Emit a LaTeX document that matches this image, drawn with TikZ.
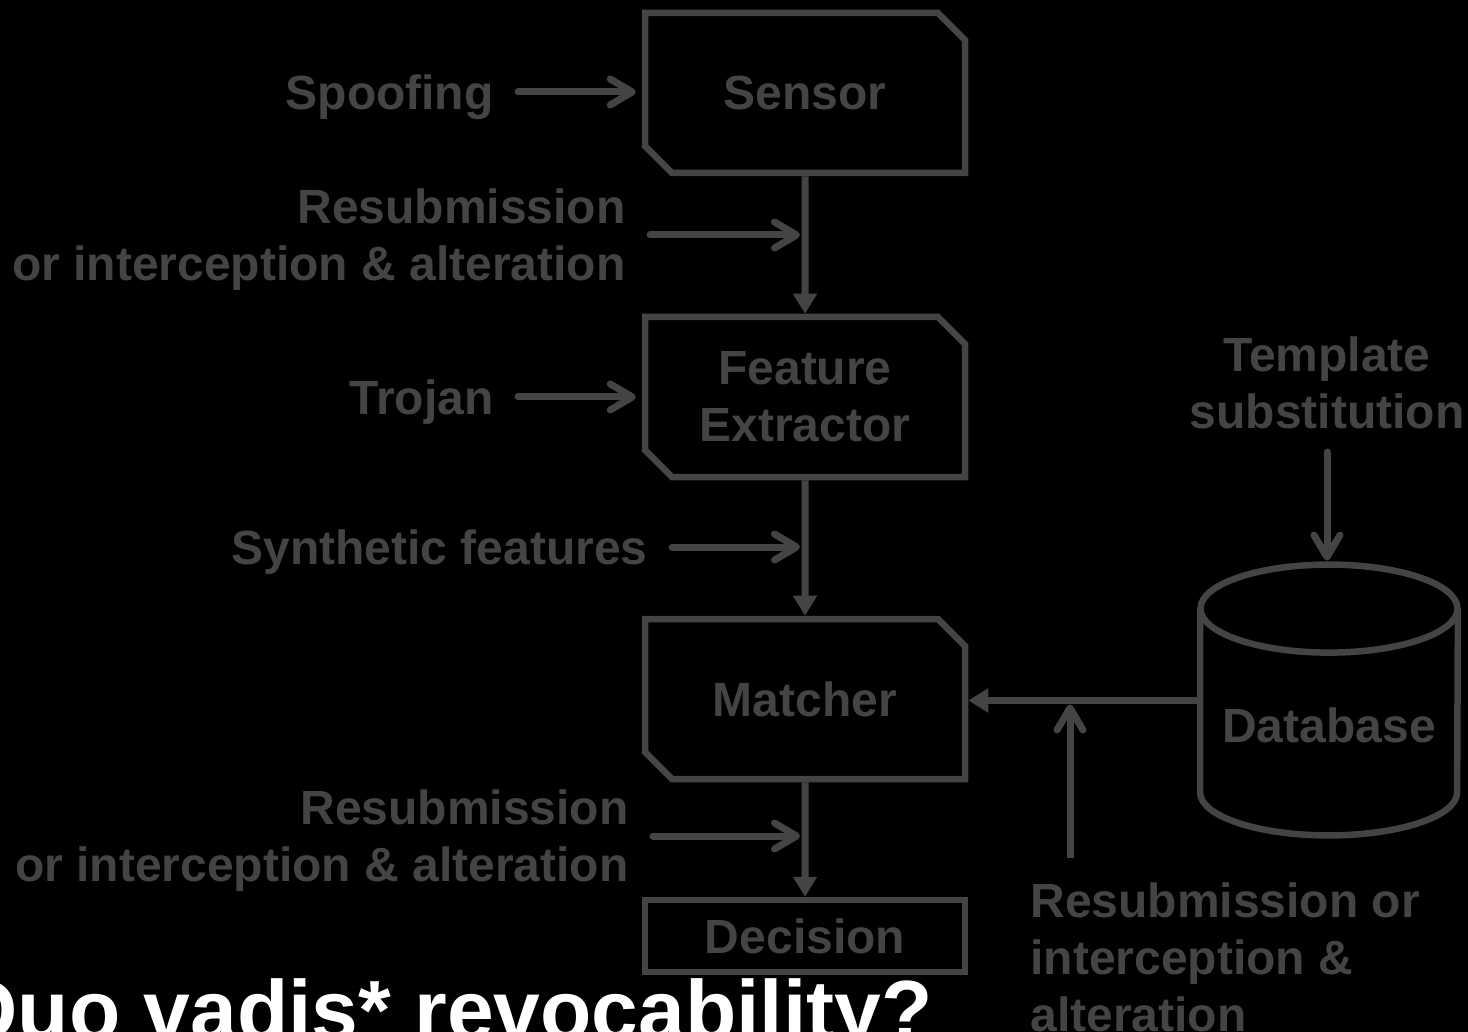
\documentclass[tikz,border=0pt]{standalone}
\usepackage{fontspec}
\setmainfont{Liberation Sans}
\usetikzlibrary{arrows.meta,shapes.misc}

\definecolor{dimgray}{RGB}{68,68,68}
\newcommand{\labelfont}{\fontsize{24pt}{28.5pt}\selectfont\bfseries}
\newcommand{\titlefont}{\fontsize{42pt}{48pt}\selectfont\bfseries}

\tikzset{
    block/.style={chamfered rectangle, chamfered rectangle corners={north east,south west},
        chamfered rectangle sep=6.75pt, draw=dimgray, line width=3.25pt,
        minimum width=160pt, minimum height=80pt, text=dimgray, font=\labelfont, align=center},
    plainblock/.style={rectangle, draw=dimgray, line width=3.25pt,
        minimum width=160pt, minimum height=36pt, text=dimgray, font=\labelfont},
    store/.style={rectangle, minimum width=128.5pt, minimum height=91.5pt, inner sep=0pt,
        text height=42pt, text depth=0pt, text=dimgray, font=\labelfont},
    storeline/.style={draw=dimgray, line width=3.25pt},
    threat/.style={text=dimgray, font=\labelfont, align=right, inner xsep=12pt, inner ysep=0pt},
    flow/.style={draw=dimgray, line width=3.5pt, -{Triangle[length=10pt,width=11.5pt]}},
    attack/.style={draw=dimgray, line width=3.5pt, line cap=round,
        -{Straight Barb[length=11pt,width=13pt,round]}},
}

\begin{document}
\begin{tikzpicture}[x=0.5pt, y=-0.5pt]
    % Page and background
    \useasboundingbox[fill=black] (0,0) rectangle (1468,1032);

    % Processing chain
    \node[block] (sensor) at (805,93) {Sensor};
    \node[block] (extractor) at (805,397) {Feature\\Extractor};
    \node[block] (matcher) at (805,699) {Matcher};
    \node[plainblock] (decision) at (805,936) {Decision};

    % Database drawn as a cylinder round its body
    \node[store] (db) at (1329,700.5) {Database};
    \draw[storeline] (db.north west) -- (db.south west)
        arc[start angle=180, end angle=0, x radius=128.5, y radius=43] -- (db.north east);
    \draw[storeline] (db.north) ellipse [x radius=128.5, y radius=44];
    \coordinate (dbtop) at ([yshift=22pt]db.north);

    \draw[flow] (sensor) -- (extractor);
    \draw[flow] (extractor) -- (matcher);
    \draw[flow] (matcher) -- (decision);
    \draw[flow] (db.west) -- (db.west -| matcher.east);

    % Attack points, left side
    \node[threat, text depth=0pt, anchor=east] (spoof) at (518,92) {Spoofing};
    \draw[attack, shorten >=3pt] (spoof.east) -- (spoof.east -| sensor.west);

    \node[threat, anchor=east] (resubA) at (650,240) {Resubmission\\or interception \& alteration};
    \coordinate (resubAout) at ([yshift=2.5pt]resubA.east);
    \draw[attack, shorten >=2.5pt] (resubAout) -- (resubAout -| sensor.south);

    \node[threat, text depth=0pt, anchor=east] (trojan) at (518,397) {Trojan};
    \draw[attack, shorten >=3pt] (trojan.east) -- (trojan.east -| extractor.west);

    \node[threat, text depth=0pt, anchor=east] (synth) at (672,547) {Synthetic features};
    \draw[attack, shorten >=2.5pt] (synth.east) -- (synth.east -| extractor.south);

    \node[threat, anchor=east] (resubB) at (653,841) {Resubmission\\or interception \& alteration};
    \coordinate (resubBout) at ([yshift=2.5pt]resubB.east);
    \draw[attack, shorten >=2.5pt] (resubBout) -- (resubBout -| matcher.south);

    % Attack points, database side
    \node[threat, align=center, inner ysep=11.5pt, anchor=south] (subst) at (1327,452) {Template\\substitution};
    \draw[attack, shorten >=2pt] (subst.south) -- (subst.south |- dbtop);

    \node[threat, align=left, anchor=north west] (resubC) at (1006,882) {Resubmission or\\interception \&\\alteration};
    \coordinate (foot) at ([shift={(64,-24)}]resubC.north west);
    \coordinate (tap) at (foot |- db.west);
    \draw[attack, line cap=butt, shorten >=2pt] (foot) -- (tap);

    % Title
    \node[anchor=base west, text=white, font=\titlefont, inner sep=0pt] (title) at (-48,1039) {Quo vadis* revocability?};
\end{tikzpicture}
\end{document}
